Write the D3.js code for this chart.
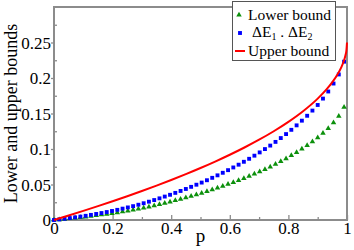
<!DOCTYPE html>
<html>
<head>
<meta charset="utf-8">
<script src="https://cdn.jsdelivr.net/npm/d3@7"></script>
<style>
  body { margin: 0; background: #fff; }
  svg text { font-family: "Liberation Serif", Tinos, "Times New Roman", Times, "DejaVu Serif", serif !important; fill: #000; }
</style>
</head>
<body>
<svg id="chart" width="354" height="250"></svg>
<script>
// sampled p values for the markers
const pVals = [0, 0.018, 0.036, 0.054, 0.072, 0.09, 0.108, 0.126, 0.144, 0.162,
  0.18, 0.198, 0.216, 0.234, 0.252, 0.27, 0.288, 0.306, 0.324, 0.342,
  0.36, 0.378, 0.396, 0.414, 0.432, 0.45, 0.468, 0.486, 0.504, 0.522,
  0.54, 0.558, 0.576, 0.594, 0.612, 0.63, 0.648, 0.666, 0.684, 0.702,
  0.72, 0.738, 0.756, 0.774, 0.792, 0.81, 0.828, 0.846, 0.864, 0.882,
  0.9, 0.918, 0.936, 0.954, 0.972, 0.99];

const lowerBound = [0, 0.0006, 0.0013, 0.0021, 0.0029, 0.0037, 0.0045, 0.0055, 0.0064, 0.0074,
  0.0083, 0.0094, 0.0105, 0.0117, 0.0129, 0.0142, 0.0156, 0.0170, 0.0186, 0.0202,
  0.0220, 0.0238, 0.0256, 0.0275, 0.0294, 0.0315, 0.0336, 0.0358, 0.0379, 0.0403,
  0.0428, 0.0452, 0.0477, 0.0504, 0.0530, 0.0558, 0.0586, 0.0616, 0.0648, 0.0681,
  0.0714, 0.0749, 0.0787, 0.0825, 0.0865, 0.0908, 0.0953, 0.1000, 0.1050, 0.1102,
  0.1160, 0.1222, 0.1290, 0.1370, 0.1462, 0.1590];

const deltaProduct = [0, 0.0008, 0.0017, 0.0027, 0.0037, 0.0048, 0.0059, 0.0072, 0.0085, 0.0098,
  0.0112, 0.0127, 0.0143, 0.0160, 0.0177, 0.0195, 0.0215, 0.0236, 0.0258, 0.0281,
  0.0305, 0.0330, 0.0355, 0.0382, 0.0409, 0.0437, 0.0467, 0.0497, 0.0527, 0.0560,
  0.0594, 0.0629, 0.0665, 0.0702, 0.0740, 0.0779, 0.0820, 0.0862, 0.0906, 0.0952,
  0.0999, 0.1048, 0.1100, 0.1154, 0.1210, 0.1270, 0.1333, 0.1399, 0.1468, 0.1541,
  0.1620, 0.1710, 0.1810, 0.1922, 0.2050, 0.2230];

// upper bound curve
const pUpper = [0, 0.05, 0.1, 0.15, 0.2, 0.25, 0.3, 0.35, 0.4, 0.45, 0.5, 0.55, 0.6,
  0.65, 0.7, 0.75, 0.8, 0.85, 0.9, 0.93, 0.95, 0.97, 0.98, 0.99, 0.995, 0.998, 1];
const upperBound = [0, 0.00633, 0.01283, 0.01951, 0.02639, 0.03349, 0.04083, 0.04844,
  0.05635, 0.06460, 0.07322, 0.08229, 0.09189, 0.10210, 0.11307, 0.125, 0.13820,
  0.15318, 0.17094, 0.18386, 0.19410, 0.20670, 0.21464, 0.225, 0.23232, 0.23882, 0.25];

const xTicks = [0, 0.2, 0.4, 0.6, 0.8, 1];
const xTickLabels = ['0', '0.2', '0.4', '0.6', '0.8', '1'];
const yTicks = [0, 0.05, 0.1, 0.15, 0.2, 0.25];
const yTickLabels = ['0', '0.05', '0.1', '0.15', '0.2', '0.25'];

const legendNames = ['Lower bound', 'ΔE', 'Upper bound'];

const green = '#0c900c', blue = '#0000ff', red = '#ff0000', axisGray = '#8c8c8c';
const serif = '"Liberation Serif", Tinos, "Times New Roman", Times, "DejaVu Serif", serif';

const svg = d3.select('#chart');
const mLeft = 54, mRight = 347, mTop = 7, mBottom = 220;

const x = d3.scaleLinear().domain([0, 1]).range([mLeft, mRight]);
const y = d3.scaleLinear().domain([0, 0.3]).range([mBottom, mTop]);

/* ---------- axes ---------- */
const xMinor = svg.append('g').attr('transform', `translate(0,${mBottom})`)
  .call(d3.axisBottom(x).tickValues(d3.range(1, 10, 2).map(d => d / 10)).tickSize(-3).tickFormat(''));
const xMajor = svg.append('g').attr('transform', `translate(0,${mBottom})`)
  .call(d3.axisBottom(x).tickValues(xTicks).tickSize(-5).tickPadding(2)
    .tickFormat((d, i) => xTickLabels[i]));

const yMinor = svg.append('g').attr('transform', `translate(${mLeft},0)`)
  .call(d3.axisLeft(y).tickValues(d3.range(1, 12, 2).map(d => d * 0.025)).tickSize(-3).tickFormat(''));
const yMajor = svg.append('g').attr('transform', `translate(${mLeft},0)`)
  .call(d3.axisLeft(y).tickValues(yTicks).tickSize(3).tickPadding(0)
    .tickFormat((d, i) => yTickLabels[i]));

[xMinor, xMajor, yMinor, yMajor].forEach(g => {
  g.attr('font-family', serif).attr('font-size', 17);
  g.select('.domain').remove();
  g.selectAll('line').attr('stroke', axisGray).attr('stroke-width', 1.3);
  g.selectAll('text').attr('fill', '#000');
});
xMajor.selectAll('text').attr('dy', '0.72em');
yMajor.selectAll('text').attr('dy', '0.34em');

// frame
svg.append('rect')
  .attr('x', mLeft).attr('y', mTop)
  .attr('width', mRight - mLeft).attr('height', mBottom - mTop)
  .attr('fill', 'none').attr('stroke', axisGray).attr('stroke-width', 2);

/* ---------- axis titles ---------- */
svg.append('text')
  .attr('x', (mLeft + mRight) / 2).attr('y', 242)
  .attr('text-anchor', 'middle').attr('font-family', serif).attr('font-size', 19)
  .text('p');

svg.append('text')
  .attr('transform', `translate(17,${(mTop + mBottom) / 2}) rotate(-90)`)
  .attr('text-anchor', 'middle').attr('font-family', serif).attr('font-size', 18)
  .text('Lower and upper bounds');

/* ---------- data ---------- */
const tri = d3.symbol().type(d3.symbolTriangle).size(13);
const sq = d3.symbol().type(d3.symbolSquare).size(15);

svg.append('g').selectAll('path')
  .data(pVals)
  .join('path')
  .attr('d', tri)
  .attr('transform', (d, i) => `translate(${x(d)},${y(lowerBound[i])})`)
  .attr('fill', green);

svg.append('g').selectAll('path')
  .data(pVals)
  .join('path')
  .attr('d', sq)
  .attr('transform', (d, i) => `translate(${x(d)},${y(deltaProduct[i])})`)
  .attr('fill', blue);

const line = d3.line()
  .x(d => x(d[0]))
  .y(d => y(d[1]))
  .curve(d3.curveMonotoneX);

svg.append('path')
  .datum(pUpper.map((p, i) => [p, upperBound[i]]))
  .attr('d', line)
  .attr('fill', 'none')
  .attr('stroke', red)
  .attr('stroke-width', 2);

/* ---------- legend ---------- */
const lg = svg.append('g').attr('font-family', serif).attr('font-size', 15.5);
lg.append('rect')
  .attr('x', 232.5).attr('y', 1.5).attr('width', 103).attr('height', 59)
  .attr('fill', '#fff').attr('stroke', '#555').attr('stroke-width', 1);

lg.append('path').attr('d', tri).attr('transform', 'translate(239,15)').attr('fill', green);
lg.append('text').attr('x', 248).attr('y', 19.5).text(legendNames[0]);

lg.append('path').attr('d', sq).attr('transform', 'translate(240,33)').attr('fill', blue);
const dt = lg.append('text').attr('x', 252).attr('y', 37);
dt.append('tspan').text(legendNames[1]);
dt.append('tspan').attr('dy', 3).attr('font-size', 10).text('1');
dt.append('tspan').attr('dy', -3).text(' . ' + legendNames[1]);
dt.append('tspan').attr('dy', 3).attr('font-size', 10).text('2');

lg.append('line').attr('x1', 235).attr('x2', 245).attr('y1', 51).attr('y2', 51)
  .attr('stroke', red).attr('stroke-width', 2);
lg.append('text').attr('x', 248).attr('y', 55.5).text(legendNames[2]);
</script>
</body>
</html>
